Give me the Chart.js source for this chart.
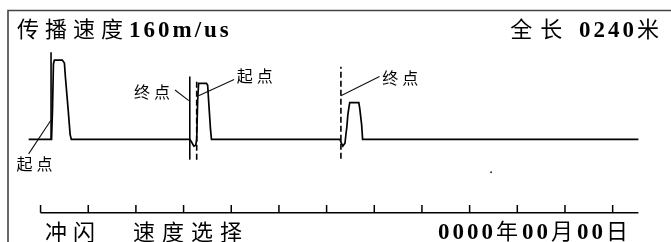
<!DOCTYPE html>
<html>
<head>
<meta charset="utf-8">
<script src="https://cdn.jsdelivr.net/npm/chart.js@4"></script>
<style>
    html, body { margin: 0; padding: 0; background: #fff; }
    #caixa { position: relative; width: 671px; height: 242px; }
</style>
</head>
<body>
<div id="caixa"><canvas id="grafico_pulso"></canvas></div>
<script>
// onda refletida: distancia em metros (12 divisoes de 20 m = 240 m), amplitude relativa
var distancia = [-5.0, 4.6, 5.0, 5.4, 5.8, 9.1, 10.0, 10.4, 11.6, 12.4, 12.9,
    62.6, 63.4, 64.3, 65.1, 65.5, 65.9, 66.3, 69.6, 70.1, 70.5, 71.3, 71.7,
    125.6, 126.4, 126.8, 127.7, 128.1, 128.5, 128.9, 129.3, 129.7, 133.5, 133.9, 134.7, 135.1,
    250.8];
var amplitude = [0, 0, 36.6, 95.1, 100, 100, 96.3, 79.3, 36.6, 6.1, 0,
    0, -3.7, -8.5, -7.3, 0, 48.8, 70.7, 70.7, 68.3, 48.8, 12.2, 0,
    0, -6.1, -8.5, -4.9, 6.1, 15.9, 30.5, 39.0, 46.3, 46.3, 39.0, 18.3, 0,
    0];

// cursores (起点 / 终点)
var cursorPos = [4.4, 62.6, 65.5, 126.0];
var cursorTopo = [109.8, 79.3, 73.2, 91.5];
var cursorBase = [0, -25.6, -25.6, -24.4];
var cursorTracejado = [false, false, true, true];

// rotulos dos cursores e linhas de chamada
var rotulos = ['起点', '终点', '起点', '终点'];
var rotuloX = [-2.5, 46.8, 89.9, 150.9];
var rotuloY = [-30.5, 59.8, 79.9, 78.0];
var chamadaDe = [[-5.0, -18.3], [56.4, 62.2], [81.2, 75.6], [142.2, 79.3]];
var chamadaAte = [[4.4, 24.4], [62.2, 48.8], [66.3, 54.9], [126.0, 54.9]];

// eixo de distancia
var marcas = [0, 20, 40, 60, 80, 100, 120, 140, 160, 180, 200, 220, 240];
var eixoFim = 250.8;
var nivelEixo = -92.7;
var alturaMarca = 9.8;
var ponto = [189.0, -41.5];

var pontosOnda = distancia.map((d, i) => ({ x: d, y: amplitude[i] }));

var pontosEixo = [{ x: 0, y: nivelEixo }, { x: eixoFim, y: nivelEixo }, { x: NaN, y: null }];
marcas.forEach((m) => {
    pontosEixo.push({ x: m, y: nivelEixo }, { x: m, y: nivelEixo + alturaMarca }, { x: m, y: null });
});

var pontosChamada = [];
chamadaDe.forEach((p, i) => {
    pontosChamada.push({ x: p[0], y: p[1] }, { x: chamadaAte[i][0], y: chamadaAte[i][1] }, { x: p[0], y: null });
});

var datasets = [{
    data: pontosOnda, borderColor: '#000', borderWidth: 1.7
}, {
    data: pontosEixo, borderColor: '#000', borderWidth: 1.5
}, {
    data: pontosChamada, borderColor: '#111', borderWidth: 1.1
}, {
    data: [{ x: ponto[0], y: ponto[1] }], showLine: false, pointRadius: 1, backgroundColor: '#333', borderWidth: 0
}];

cursorPos.forEach((c, i) => {
    datasets.push({
        data: [{ x: c, y: cursorBase[i] }, { x: c, y: cursorTopo[i] }],
        borderColor: '#000',
        borderWidth: 1.6,
        borderDash: cursorTracejado[i] ? [6, 3] : []
    });
});

var fonteLatina = 'bold 23px "Liberation Serif", serif';
var fonteCJK = '22px "Noto Sans CJK SC"';

function ehCJK(c) {
    return c.charCodeAt(0) > 0x2e80;
}

// desenha caractere a caractere: fonte e espaco diferentes para latim e CJK
function textoMisto(ctx, texto, x, y, espLat, espCJK, alinhar) {
    var chars = [...texto];
    var larguras = chars.map((c) => {
        ctx.font = ehCJK(c) ? fonteCJK : fonteLatina;
        return ctx.measureText(c).width + (ehCJK(c) ? espCJK : espLat);
    });
    var total = larguras.reduce((a, b) => a + b, 0);
    if (alinhar == 'right') x -= total;
    ctx.textAlign = 'left';
    chars.forEach((c, i) => {
        ctx.font = ehCJK(c) ? fonteCJK : fonteLatina;
        ctx.fillText(c, x, y);
        x += larguras[i];
    });
}

function textoEspacado(ctx, texto, x, y, espaco) {
    var chars = [...texto];
    var larguras = chars.map((c) => ctx.measureText(c).width);
    var total = larguras.reduce((a, b) => a + b, 0) + espaco * (chars.length - 1);
    x -= total / 2;
    ctx.textAlign = 'left';
    chars.forEach((c, i) => {
        ctx.fillText(c, x, y);
        x += larguras[i] + espaco;
    });
}

var moldura = {
    id: 'moldura',
    beforeDraw(chart) {
        var ctx = chart.ctx;
        ctx.save();
        ctx.fillStyle = '#fff';
        ctx.fillRect(0, 0, chart.width, chart.height);
        ctx.strokeStyle = '#444';
        ctx.lineWidth = 1.6;
        ctx.beginPath();
        ctx.moveTo(8, chart.height);
        ctx.lineTo(8, 10.5);
        ctx.lineTo(chart.width, 10.5);
        ctx.stroke();
        ctx.restore();
    },
    afterDatasetsDraw(chart) {
        var ctx = chart.ctx;
        var sx = chart.scales.x, sy = chart.scales.y;
        ctx.save();
        ctx.fillStyle = '#000';
        ctx.textBaseline = 'alphabetic';
        textoMisto(ctx, '传播速度160m/us', 17, 37, 3, 6, 'left');
        textoMisto(ctx, '全长 0240米', 667, 37, 3, 8, 'right');
        textoMisto(ctx, '冲闪', 45, 240, 0, 6, 'left');
        textoMisto(ctx, '速度选择', 133, 240, 0, 7, 'left');
        textoMisto(ctx, '0000年00月00日', 438, 239, 3, 4, 'left');

        ctx.font = '16px "Noto Sans CJK SC"';
        ctx.textBaseline = 'middle';
        rotulos.forEach((r, i) => {
            textoEspacado(ctx, r, sx.getPixelForValue(rotuloX[i]), sy.getPixelForValue(rotuloY[i]), 4);
        });
        ctx.restore();
    }
};

var graficoPulso = new Chart(document.getElementById('grafico_pulso').getContext('2d'), {
    type: 'scatter',
    data: { datasets: datasets },
    options: {
        responsive: true,
        maintainAspectRatio: false,
        animation: false,
        layout: { padding: 0 },
        showLine: true,
        spanGaps: false,
        elements: {
            point: { radius: 0 },
            line: { tension: 0, fill: false, borderCapStyle: 'butt' }
        },
        plugins: { legend: { display: false }, tooltip: { enabled: false } },
        scales: {
            x: { type: 'linear', min: -15.34, max: 262.8, display: false },
            y: { type: 'linear', min: -124.4, max: 170.7, display: false }
        }
    },
    plugins: [moldura]
});
</script>
</body>
</html>
